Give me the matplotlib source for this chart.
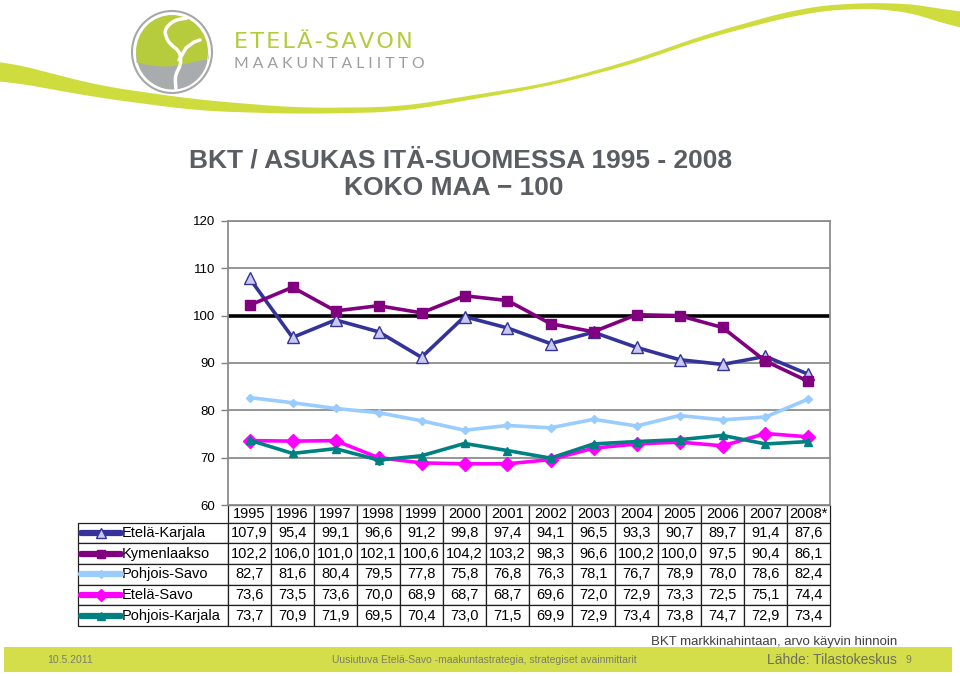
"""
BKT / asukas Itä-Suomessa 1995-2008, koko maa = 100 (dia Etelä-Savon maakuntaliitto)
"""

import numpy as np
import matplotlib
matplotlib.use("Agg")
import matplotlib.pyplot as plt
from matplotlib.patches import Ellipse, Rectangle, Polygon

plt.rcParams['font.family'] = ['Liberation Sans', 'DejaVu Sans']

years = ['1995', '1996', '1997', '1998', '1999', '2000', '2001',
         '2002', '2003', '2004', '2005', '2006', '2007', '2008*']

regions = ['Etelä-Karjala', 'Kymenlaakso', 'Pohjois-Savo', 'Etelä-Savo', 'Pohjois-Karjala']

etela_karjala = [107.9, 95.4, 99.1, 96.6, 91.2, 99.8, 97.4, 94.1, 96.5, 93.3, 90.7, 89.7, 91.4, 87.6]
kymenlaakso = [102.2, 106.0, 101.0, 102.1, 100.6, 104.2, 103.2, 98.3, 96.6, 100.2, 100.0, 97.5, 90.4, 86.1]
pohjois_savo = [82.7, 81.6, 80.4, 79.5, 77.8, 75.8, 76.8, 76.3, 78.1, 76.7, 78.9, 78.0, 78.6, 82.4]
etela_savo = [73.6, 73.5, 73.6, 70.0, 68.9, 68.7, 68.7, 69.6, 72.0, 72.9, 73.3, 72.5, 75.1, 74.4]
pohjois_karjala = [73.7, 70.9, 71.9, 69.5, 70.4, 73.0, 71.5, 69.9, 72.9, 73.4, 73.8, 74.7, 72.9, 73.4]

series = [etela_karjala, kymenlaakso, pohjois_savo, etela_savo, pohjois_karjala]
colors = ['#333399', '#800080', '#99ccff', '#ff00ff', '#008080']
markers = ['^', 's', 'D', 'D', '^']
msizes = [8, 7, 4, 7, 6]
mfaces = ['#c8c8f0', '#800080', '#99ccff', '#ff00ff', '#008080']

yticks = [60, 70, 80, 90, 100, 110, 120]

W, H = 960, 676
fig = plt.figure(figsize=(W / 100, H / 100), dpi=100)

# background layer in pixel coords (0,0 = top left)
bg = fig.add_axes([0, 0, 1, 1])
bg.set_xlim(0, W)
bg.set_ylim(H, 0)
bg.axis('off')


def smooth(px, py, n=200, w=15):
    xs = np.linspace(px[0], px[-1], n)
    ys = np.interp(xs, px, py)
    k = np.ones(w) / w
    return xs, np.convolve(np.pad(ys, w // 2, mode='edge'), k, mode='valid')


# swoosh
sx = [0, 100, 200, 300, 400, 480, 550, 640, 700, 800, 850, 900, 935, 960]
s_low = [80, 98, 111, 114, 112, 98, 86, 62, 40, 14, 8, 10, 18, 32]
s_up = [60, 86, 100, 108, 107, 94, 83, 58, 36, 8, 3, 3, 6, 14]
xx, lo = smooth(sx, s_low)
_, up = smooth(sx, s_up)
bg.add_patch(Polygon(np.column_stack([np.r_[xx, xx[::-1]], np.r_[lo, up[::-1]]]),
                     closed=True, fc='#cfdc3e', ec='none'))

# logo
bg.add_patch(Ellipse((172, 52), 80, 82, fc='white', ec='#a5a8aa', lw=1.5))
bg.add_patch(Ellipse((172, 52), 72, 74, fc='#b7cc3c', ec='none'))
wx = np.linspace(136, 208, 50)
wy = 62 + 4 * np.sin((wx - 136) / 72 * np.pi * 1.3)
inside = np.sqrt(1 - np.clip(((wx - 172) / 36) ** 2, 0, 1)) * 37 + 52
bg.fill_between(wx, wy, inside, color='#a9acae', lw=0)
t = np.linspace(0, 1, 60)
swx = np.interp(t, [0, 0.12, 0.25, 0.4, 0.55, 0.7, 0.85, 1],
                [188, 174, 164, 168, 180, 181, 175, 176])
swy = np.interp(t, [0, 0.12, 0.25, 0.4, 0.55, 0.7, 0.85, 1],
                [18, 20, 30, 42, 52, 64, 76, 90])
k5 = np.ones(7) / 7
swx = np.convolve(np.pad(swx, 3, mode='edge'), k5, mode='valid')
swy = np.convolve(np.pad(swy, 3, mode='edge'), k5, mode='valid')
bg.plot(swx, swy, color='white', lw=2.5, solid_capstyle='round')
bg.plot([179, 186, 194, 200], [60, 48, 42, 40], color='white', lw=2.5, solid_capstyle='round')
bg.text(234, 42, '\u200a'.join('ETELÄ-SAVON'), fontsize=16, color='#b5cb3c',
        family=['DejaVu Sans'], va='center', ha='left')
bg.text(234, 64, 'M A A K U N T A L I I T T O', fontsize=11.3, color='#9a9ea2',
        family=['Lato', 'Open Sans'], va='center', ha='left')

# title
bg.text(461, 161, 'BKT / ASUKAS ITÄ-SUOMESSA 1995 - 2008', fontsize=19, fontweight='bold',
        color='#5a5d62', ha='center', va='center')
bg.text(454, 188, 'KOKO MAA \u2212 100', fontsize=19, fontweight='bold',
        color='#5a5d62', ha='center', va='center')

# footer
bg.add_patch(Rectangle((4, 647), 948, 25, fc='#d4de4a', ec='none'))
narrow = ['Liberation Sans Narrow', 'Liberation Sans']
bg.text(70, 660, '10.5.2011', fontsize=7.5, color='#7d7d6a', family=narrow, ha='center', va='center')
bg.text(484, 660, 'Uusiutuva Etelä-Savo -maakuntastrategia, strategiset avainmittarit',
        fontsize=7.5, color='#7d7d6a', family=narrow, ha='center', va='center')
bg.text(897, 660, 'Lähde: Tilastokeskus', fontsize=10, color='#6d6d60', family=narrow,
        ha='right', va='center')
bg.text(908, 660, '9', fontsize=7.5, color='#7d7d6a', family=narrow, ha='center', va='center')
bg.text(897, 642, 'BKT markkinahintaan, arvo käyvin hinnoin', fontsize=9.5, color='#404040',
        family=narrow, ha='right', va='center')

# chart
ax = fig.add_axes([228 / W, 1 - 505 / H, 602 / W, 284 / H])
x = np.arange(len(years))
for vals, c, m, ms, mf in zip(series, colors, markers, msizes, mfaces):
    ax.plot(x, vals, color=c, lw=2.6, marker=m, ms=ms, mfc=mf, mec=c, mew=1, zorder=3)
ax.set_xlim(-0.5, len(years) - 0.5)
ax.set_ylim(60, 120)
ax.set_yticks(yticks)
ax.set_yticklabels([str(t) for t in yticks], fontsize=9.5)
ax.set_xticks([])
ax.tick_params(axis='y', length=5, width=1, color='#808080', pad=4)
for t in yticks[1:]:
    if t == 100:
        ax.axhline(t, color='black', lw=2.6, zorder=2)
    else:
        ax.axhline(t, color='#8c8c8c', lw=1.3, zorder=1)
for sp in ax.spines.values():
    sp.set_color('#8c8c8c')
    sp.set_linewidth(1.3)

# data table under the plot
cell_text = [[''] + years]
for name, vals in zip(regions, series):
    cell_text.append([name] + [f'{v:.1f}'.replace('.', ',') for v in vals])
col_w = [150] + [43] * len(years)
tab = ax.table(cellText=cell_text, colWidths=col_w, cellLoc='center',
               bbox=[-150 / 602, -(626 - 505) / 284, 752 / 602, (626 - 505) / 284])
tab.auto_set_font_size(False)
n_rows = len(cell_text)
for (r, c), cell in tab.get_celld().items():
    cell.set_linewidth(0.9)
    cell.set_edgecolor('#202020')
    cell.set_height(0.85 if r == 0 else 1.0)
    txt = cell.get_text()
    txt.set_fontsize(10.5)
    if c == 0:
        cell._loc = 'left'
        cell.PAD = 0.29
        txt.set_horizontalalignment('left')
        if r == 0:
            cell.set_linewidth(0)
    else:
        txt.set_family(narrow)

# legend keys inside the row label cells
row_h = (626 - 505) / (n_rows - 1 + 0.85) / 284
for i, (c, m, ms, mf) in enumerate(zip(colors, markers, msizes, mfaces)):
    yc = -(626 - 505) / 284 + (n_rows - 1 - i - 0.5) * row_h
    ax.plot([-147 / 602, -107 / 602], [yc, yc], color=c, lw=4.5, solid_capstyle='round',
            transform=ax.transAxes, clip_on=False)
    ax.plot([-127 / 602], [yc], color=c, marker=m, ms=ms * 0.9, mfc=mf, mec=c,
            transform=ax.transAxes, clip_on=False)

fig.savefig('out.png', dpi=100)
